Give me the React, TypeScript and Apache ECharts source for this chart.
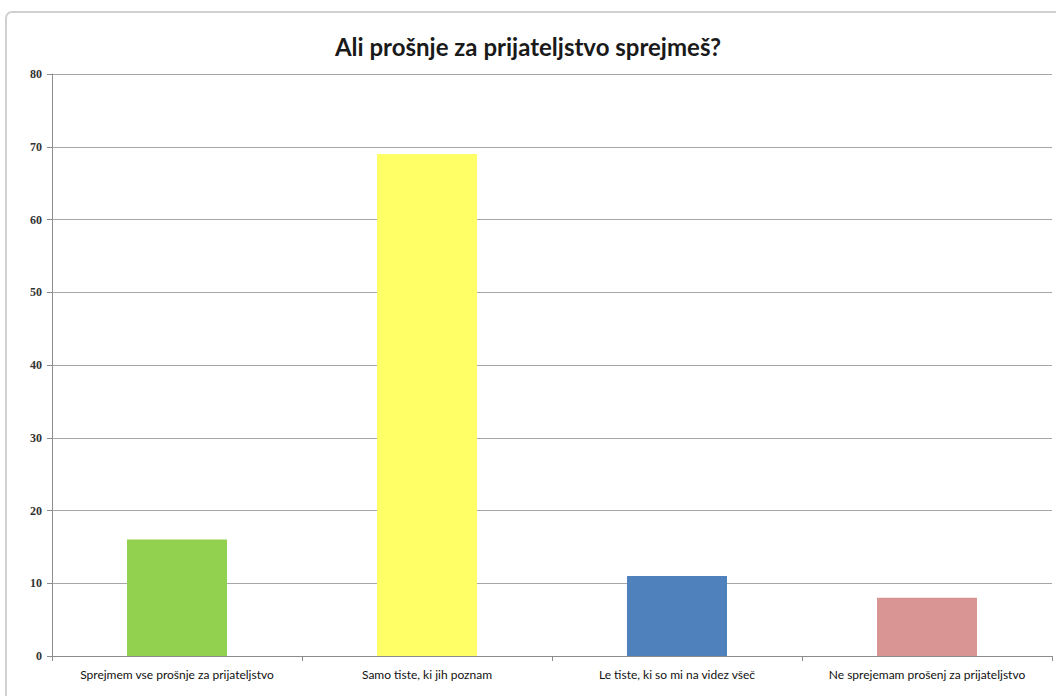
import React, { useEffect, useRef } from "react";
import * as echarts from "echarts";

const titleText = "Ali prošnje za prijateljstvo sprejmeš?";
const categories = [
  "Sprejmem vse prošnje za prijateljstvo",
  "Samo tiste, ki jih poznam",
  "Le tiste, ki so mi na videz všeč",
  "Ne sprejemam prošenj za prijateljstvo",
];
const values = [16, 69, 11, 8];
const barColors = ["#92d050", "#ffff66", "#4f81bd", "#d99594"];

export default function App() {
  const ref = useRef<HTMLDivElement>(null);
  useEffect(() => {
    const chart = echarts.init(ref.current!, null, { renderer: "svg" });
    chart.setOption({
      animation: false,
      backgroundColor: "#ffffff",
      graphic: [
        {
          type: "rect",
          shape: { x: 6, y: 12, width: 1060, height: 700, r: 6 },
          style: { fill: "none", stroke: "#d0d0d0", lineWidth: 2 },
          silent: true,
        },
      ],
      title: {
        text: titleText,
        left: "center",
        top: 29,
        textStyle: {
          fontFamily: "Lato",
          fontSize: 24,
          fontWeight: "bold",
          color: "#1a1a1a",
        },
      },
      grid: { left: 52, right: 4, top: 74, bottom: 40 },
      xAxis: {
        type: "category",
        data: categories,
        axisLine: { lineStyle: { color: "#8c8c8c" } },
        axisTick: { show: true, alignWithLabel: false, length: 5, lineStyle: { color: "#8c8c8c" } },
        axisLabel: {
          interval: 0,
          fontFamily: "Lato",
          fontSize: 12,
          color: "#111",
          margin: 12,
        },
      },
      yAxis: {
        type: "value",
        min: 0,
        max: 80,
        interval: 10,
        axisLine: { show: true, lineStyle: { color: "#8c8c8c" } },
        axisTick: { show: true, length: 5, lineStyle: { color: "#8c8c8c" } },
        axisLabel: {
          fontFamily: "Liberation Serif",
          fontWeight: "bold",
          fontSize: 12,
          color: "#333",
          margin: 10,
        },
        splitLine: { lineStyle: { color: "#a6a6a6", width: 1 } },
      },
      series: [
        {
          type: "bar",
          data: values.map((v, i) => ({ value: v, itemStyle: { color: barColors[i] } })),
          barCategoryGap: "60%",
        },
      ],
    });
    return () => chart.dispose();
  }, []);
  return <div ref={ref} style={{ width: 1056, height: 696, position: "absolute", left: 0, top: 0 }} />;
}
